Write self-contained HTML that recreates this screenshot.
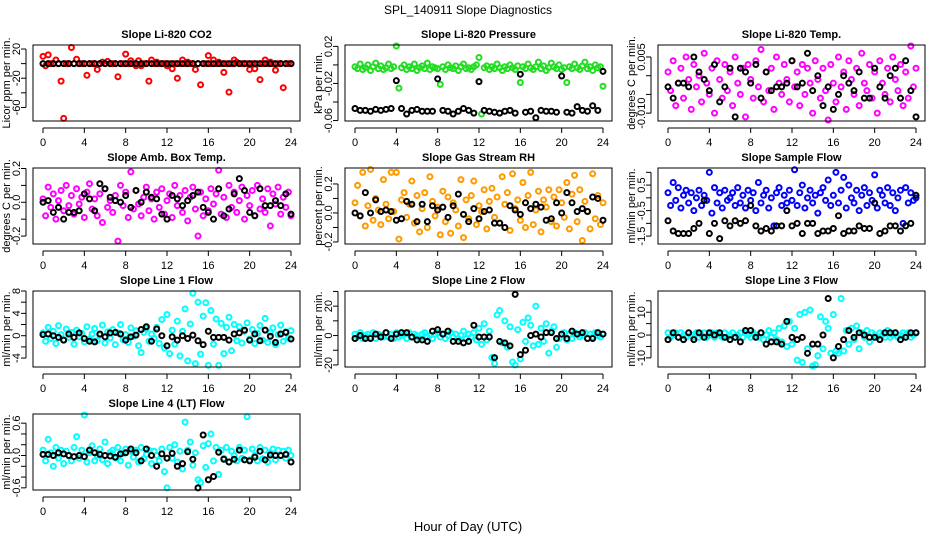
<!DOCTYPE html>
<html><head><meta charset="utf-8"><title>SPL_140911 Slope Diagnostics</title>
<style>
html,body{margin:0;padding:0;background:#fff;}
svg{display:block;font-family:"Liberation Sans","DejaVu Sans",sans-serif;}
</style></head>
<body>
<svg id="chart" width="936" height="540" viewBox="0 0 936 540">
<rect x="0" y="0" width="936" height="540" fill="#fff"/>
<text x="468" y="14" text-anchor="middle" font-size="12">SPL_140911  Slope Diagnostics</text>
<text x="468" y="531" text-anchor="middle" font-size="13">Hour of Day (UTC)</text>
</svg>
<script>
const hoursC = [0,0.25,0.5,0.75,1,1.25,1.5,1.75,2,2.25,2.5,2.75,3,3.25,3.5,3.75,4,4.25,4.5,4.75,5,5.25,5.5,5.75,6,6.25,6.5,6.75,7,7.25,7.5,7.75,8,8.25,8.5,8.75,9,9.25,9.5,9.75,10,10.25,10.5,10.75,11,11.25,11.5,11.75,12,12.25,12.5,12.75,13,13.25,13.5,13.75,14,14.25,14.5,14.75,15,15.25,15.5,15.75,16,16.25,16.5,16.75,17,17.25,17.5,17.75,18,18.25,18.5,18.75,19,19.25,19.5,19.75,20,20.25,20.5,20.75,21,21.25,21.5,21.75,22,22.25,22.5,22.75,23,23.25,23.5,23.75,24];
const hoursB = [0,0.5,1,1.5,2,2.5,3,3.5,4,4.5,5,5.5,6,6.5,7,7.5,8,8.5,9,9.5,10,10.5,11,11.5,12,12.5,13,13.5,14,14.5,15,15.5,16,16.5,17,17.5,18,18.5,19,19.5,20,20.5,21,21.5,22,22.5,23,23.5,24];
const xTicks = [0,4,8,12,16,20,24];

const co2C = [10,-3,12,0,0,5,0,-24,-75,0,0,22,0,6,0,0,0,-16,0,0,0,-8,0,2,0,3,0,0,0,-18,0,0,13,0,4,0,-3,4,-3,0,0,-24,5,0,2,0,0,0,-3,0,-7,0,-20,0,5,0,2,0,0,-8,0,-29,0,0,11,0,5,0,2,0,-12,0,-39,0,5,2,0,0,0,0,-8,0,-7,0,-22,0,5,0,2,0,-9,0,0,-33,0,0,0];
const co2B = [0,0,0,0,0,0,0,0,0,0,0,0,0,0,0,0,0,0,0,0,0,0,0,0,0,0,0,0,0,0,0,0,0,0,0,0,0,0,0,0,0,0,0,0,0,0,0,0,0];

const presC = [-0.002,-0.004,0.001,-0.005,-0.003,0.000,-0.006,-0.002,0.002,-0.004,-0.001,-0.005,-0.003,0.001,-0.004,-0.002,0.021,-0.025,-0.003,0.000,-0.005,-0.002,-0.004,0.001,-0.006,-0.003,-0.001,-0.004,0.002,-0.005,-0.002,-0.003,-0.004,-0.021,-0.002,-0.005,0.000,-0.003,-0.004,-0.001,-0.006,-0.002,0.001,-0.004,-0.003,-0.005,-0.002,0.000,0.008,-0.053,-0.003,-0.001,-0.005,-0.002,-0.004,0.001,-0.003,-0.006,-0.002,-0.004,0.000,-0.003,-0.005,-0.001,-0.019,-0.002,-0.004,0.001,-0.003,-0.005,-0.002,0.003,-0.004,-0.001,-0.006,-0.003,0.002,-0.002,-0.004,0.000,-0.005,-0.003,-0.019,-0.002,-0.004,0.001,-0.003,-0.005,-0.001,0.003,-0.004,-0.002,-0.006,0.000,-0.003,-0.002,-0.023];
const presB = [-0.047,-0.049,-0.049,-0.050,-0.048,-0.049,-0.048,-0.047,-0.017,-0.047,-0.053,-0.049,-0.048,-0.050,-0.050,-0.050,-0.015,-0.049,-0.050,-0.053,-0.050,-0.047,-0.049,-0.052,-0.018,-0.049,-0.050,-0.051,-0.052,-0.050,-0.049,-0.052,-0.010,-0.051,-0.050,-0.057,-0.049,-0.050,-0.050,-0.051,-0.012,-0.051,-0.052,-0.045,-0.049,-0.050,-0.044,-0.049,-0.007];

const tempC = [0.001,-0.004,0.004,-0.008,-0.002,0.002,-0.006,0.005,-0.001,-0.009,0.003,-0.003,0.000,-0.007,0.006,-0.002,-0.005,0.002,-0.010,0.004,-0.001,-0.006,0.003,-0.004,0.001,-0.008,0.005,-0.002,-0.005,0.002,-0.011,0.003,-0.001,-0.006,0.004,-0.003,0.007,-0.007,0.001,-0.004,0.002,-0.009,0.005,-0.002,-0.005,0.003,-0.001,-0.007,0.004,-0.003,0.001,-0.008,0.003,-0.005,0.002,-0.002,-0.010,0.004,-0.001,-0.006,0.002,-0.004,-0.012,0.003,-0.002,-0.007,0.005,-0.003,0.001,-0.009,0.004,-0.001,-0.005,0.002,-0.008,0.006,-0.002,-0.004,0.003,-0.006,0.001,-0.010,0.004,-0.002,-0.005,0.002,-0.007,0.005,-0.001,-0.004,0.003,-0.008,0.001,-0.006,0.008,-0.003,0.002];
const tempB = [-0.003,-0.006,-0.002,-0.002,-0.003,0.005,0.001,-0.001,-0.004,0.003,-0.007,-0.003,0.002,-0.011,0.002,0.001,-0.002,0.003,-0.006,0.001,-0.004,-0.003,-0.003,-0.002,0.004,-0.003,-0.002,0.006,-0.004,0.000,-0.008,-0.003,-0.009,-0.005,0.000,-0.002,-0.004,0.001,-0.006,-0.006,0.002,-0.003,-0.006,0.000,0.002,-0.006,0.004,-0.004,-0.011];

const ambC = [0.02,-0.08,0.09,-0.03,0.05,-0.10,0.01,0.07,-0.05,0.10,-0.02,0.04,-0.07,0.08,-0.01,0.03,-0.09,0.06,0.11,-0.04,0.02,-0.08,0.05,-0.12,0.08,-0.03,0.01,-0.06,0.04,-0.23,0.10,-0.02,0.06,-0.09,0.18,-0.04,0.07,-0.01,-0.08,0.03,0.09,-0.05,0.02,-0.10,0.06,-0.03,0.08,-0.07,0.01,0.05,-0.09,0.10,-0.02,0.04,-0.06,0.07,-0.11,0.03,0.09,-0.04,-0.20,0.06,-0.08,0.02,-0.05,0.08,-0.01,0.05,0.19,-0.07,0.03,-0.09,0.10,-0.03,0.06,-0.06,0.01,0.09,-0.10,0.04,-0.02,0.07,-0.08,0.10,-0.04,0.02,-0.06,0.08,-0.14,0.05,-0.01,0.09,-0.07,0.03,-0.03,0.06,-0.08];
const ambB = [0.00,0.01,-0.06,-0.03,-0.10,-0.06,-0.06,-0.05,0.05,0.02,-0.05,0.11,0.08,0.03,0.01,0.00,0.04,-0.03,0.07,0.00,0.06,0.03,0.02,-0.07,-0.10,0.04,0.02,-0.02,0.01,0.04,0.06,-0.03,-0.06,-0.10,0.08,-0.08,-0.04,0.05,0.14,0.07,-0.06,-0.08,0.08,-0.02,-0.02,0.01,-0.02,0.05,-0.07];

const rhC = [0.07,0.19,-0.02,0.28,-0.09,0.05,0.30,-0.05,0.10,0.02,-0.08,0.23,0.06,-0.04,0.28,0.01,0.28,-0.18,0.09,0.14,-0.03,0.06,0.22,-0.07,0.12,-0.13,0.03,0.14,-0.10,0.25,0.08,-0.02,0.04,-0.15,0.15,-0.06,0.11,-0.14,0.07,0.02,-0.09,0.23,-0.17,0.09,-0.04,0.12,0.22,-0.08,0.05,0.01,0.16,-0.11,0.08,0.17,-0.03,0.11,-0.07,0.25,0.06,0.14,-0.12,0.27,0.03,0.09,-0.05,0.21,-0.10,0.12,0.28,-0.08,0.02,0.15,-0.13,0.09,0.04,0.16,-0.06,0.11,-0.09,0.16,0.07,-0.03,0.21,-0.11,0.13,0.26,-0.06,0.16,-0.19,0.08,0.01,-0.11,0.27,-0.04,0.12,-0.08,0.07];
const rhB = [0.0,-0.02,0.14,0.00,0.09,0.01,0.02,0.01,-0.05,-0.04,0.08,0.06,-0.06,0.06,-0.06,0.05,0.02,0.04,-0.03,0.05,0.13,-0.01,-0.06,0.03,-0.04,0.01,0.02,-0.07,-0.07,-0.10,0.05,0.02,-0.01,0.07,0.03,0.06,0.04,-0.05,-0.04,0.07,0.00,0.14,0.07,0.01,0.03,0.01,0.11,0.10,-0.05];

const sampleC = [0.2,-0.3,0.6,-0.1,0.4,-0.4,0.1,0.3,-0.2,0.2,-0.5,0.0,0.3,-0.3,0.1,-0.1,1.0,-0.6,0.4,-0.2,0.2,-0.4,0.3,-0.1,0.0,0.2,-0.3,0.4,-0.2,0.1,-0.4,0.3,-0.1,0.2,-0.5,0.6,-0.2,0.1,0.3,-0.4,0.0,-1.1,0.2,0.4,-0.3,0.1,-0.2,0.3,-0.1,1.1,-0.3,0.2,0.5,-0.4,0.0,0.3,-0.2,0.1,-0.6,0.2,0.4,-0.1,0.7,-0.3,0.1,1.0,-0.2,0.3,0.8,-0.4,0.5,0.0,-0.2,0.3,-0.5,0.1,0.4,-0.3,0.2,-0.1,0.9,-0.4,0.3,0.1,-0.2,0.4,-0.3,0.2,-0.5,0.0,0.3,-1.0,0.4,-0.2,0.2,-0.1,0.0];
const sampleB = [-0.9,-1.3,-1.4,-1.4,-1.4,-1.2,-1.0,-0.1,-1.4,-1.0,-1.6,-0.9,-1.1,-0.9,-1.0,-0.9,-0.3,-1.1,-1.3,-1.2,-1.3,-1.1,-1.1,-0.5,-1.1,-1.0,-1.4,-1.0,-1.0,-1.4,-1.3,-1.3,-1.2,-0.7,-1.4,-1.3,-1.3,-1.1,-1.2,-1.2,-0.2,-1.4,-1.3,-1.1,-1.1,-1.3,-1.1,-1.0,0.1];

const line1C = [0.5,-1.0,1.5,-0.5,0.8,-1.4,1.8,0.2,-0.8,1.2,-0.3,0.6,-1.5,1.0,-0.2,0.4,-1.1,1.6,-0.6,0.3,1.3,-0.9,0.1,1.9,-1.3,0.7,-0.4,1.1,-1.6,0.5,2.0,-0.7,0.2,-1.2,1.4,-0.1,0.9,-1.8,-3.0,0.6,1.2,-1.0,0.3,-0.5,1.5,-1.4,2.9,-2.2,3.8,-3.2,1.0,-1.5,2.6,-3.6,0.8,4.8,-4.5,2.1,7.6,-5.0,6.0,-3.3,3.5,5.9,-5.3,4.5,-1.5,3.0,-5.3,2.2,-3.2,1.5,3.3,-2.7,2.0,-0.9,1.6,-1.3,0.8,2.3,-0.6,1.1,-1.4,0.4,1.8,-0.8,3.1,-1.2,0.5,1.4,-1.6,0.2,1.9,-1.0,0.7,-0.4,0.9];
const line1B = [0.2,0.3,0.0,-0.3,-0.8,0.3,-0.3,0.5,-0.5,-1.0,-1.1,0.3,-0.2,0.5,0.6,0.3,-0.8,-0.2,0.1,1.1,1.6,-1.0,1.2,0.0,-1.8,-0.2,-0.8,0.0,-0.5,0.1,-0.9,-1.6,0.8,-0.3,-0.3,-0.3,-0.8,0.3,0.5,1.0,-0.8,0.3,-0.9,1.0,-0.1,-1.2,0.3,0.6,-0.6];

const line2C = [1,-1,2,-2,0,1,-1,2,-2,1,0,-1,2,-1,1,-2,2,-1,0,1,-2,2,-1,1,0,-2,1,2,-1,0,-2,1,2,-1,1,-2,0,2,-1,1,-2,0,3,-2,1,-1,2,-3,5,-6,8,-3,3,-15,-19,14,17,-5,10,-8,6,-18,-20,4,-16,9,-4,12,7,-7,20,-6,5,-4,8,-12,3,6,-8,-2,1,2,-3,1,-2,2,1,-1,0,2,-2,1,-1,2,0,-1,1];
const line2B = [-2,0,-2,-2,1,-1,2,-2,1,2,2,-1,-3,-3,-4,3,4,1,3,-4,-4,-5,-4,7,-1,-1,-1,-15,-4,-5,-7,28,-13,-10,0,1,-1,2,2,-2,1,-2,3,1,2,-2,-2,2,1];

const line3C = [1,-1,0,1,-1,1,0,-1,1,0,-1,1,-1,0,1,-1,0,1,-1,1,0,-1,1,-1,0,1,-1,0,1,-1,1,0,-1,1,0,-1,1,-2,0,2,-1,1,-2,3,-3,4,-5,6,-4,3,-11,9,-12,10,-6,11,-14,-13,-9,8,-6,6,3,-8,9,-7,-8,16,-7,2,-4,3,-2,4,-6,1,-1,2,-3,1,0,-1,1,0,-1,2,-1,0,1,-1,0,1,0,1,-1,0,1];
const line3B = [-2,1,-1,-2,1,-2,1,-1,1,0,1,-1,-2,-1,-3,2,2,-1,1,-4,-3,-3,-4,6,-1,-2,-1,-8,-4,-4,0,16,-10,-5,-2,2,-1,1,0,-1,-1,-2,1,1,1,-2,-1,1,1];

const line4C = [0.1,-0.1,0.3,0.05,-0.2,0.15,-0.05,0.1,-0.15,0.08,0.0,-0.1,0.15,0.35,-0.05,0.1,0.8,-0.12,0.05,0.18,-0.1,0.0,0.12,-0.08,0.25,-0.15,0.06,0.1,-0.05,0.15,-0.1,0.04,0.12,-0.18,0.08,-0.03,0.1,-0.12,0.15,-0.06,0.02,0.1,-0.15,0.08,0.0,-0.1,0.12,-0.3,-0.6,0.15,-0.05,0.2,-0.12,0.08,-0.25,0.62,0.1,0.25,-0.18,0.05,-0.45,-0.5,0.18,-0.22,0.22,0.4,-0.1,0.15,-0.35,0.1,-0.05,0.15,-0.12,0.08,0.0,-0.1,0.15,-0.05,0.1,0.72,-0.08,0.12,0.0,-0.1,0.15,-0.06,0.1,-0.12,0.05,0.12,-0.08,0.1,0.0,0.08,-0.05,0.1,0.0];
const line4B = [0.02,0.02,0.0,0.05,0.03,0.0,-0.02,0.0,-0.02,0.1,0.05,0.02,0.0,-0.01,-0.03,0.03,0.05,0.12,0.05,-0.1,0.12,0.0,-0.2,0.03,-0.05,0.04,-0.2,-0.15,0.07,-0.07,-0.6,0.38,-0.45,-0.39,0.06,-0.07,-0.12,-0.07,0.1,-0.08,-0.1,-0.03,0.08,-0.08,0.01,0.0,0.0,0.02,-0.12];

const panelTitles = ["Slope Li-820 CO2","Slope Li-820 Pressure","Slope Li-820 Temp.","Slope Amb. Box Temp.","Slope Gas Stream RH","Slope Sample Flow","Slope Line 1 Flow","Slope Line 2 Flow","Slope Line 3 Flow","Slope Line 4 (LT) Flow"];
const yTitles = ["Licor ppm per min.","kPa per min.","degrees C per min.","degrees C per min.","percent per min.","ml/min per min.","ml/min per min.","ml/min per min.","ml/min per min.","ml/min per min."];
const yTicks = [[20,0,-20,-40,-60],[0.02,0,-0.02,-0.04,-0.06],[0.005,0,-0.005,-0.01],[0.2,0.1,0,-0.1,-0.2],[0.2,0.1,0,-0.1,-0.2],[1,0.5,0,-0.5,-1,-1.5],[8,6,4,2,0,-2,-4],[30,20,10,0,-10,-20],[15,10,5,0,-5,-10],[0.6,0.4,0.2,0,-0.2,-0.4,-0.6]];
const yTickLabels = [["20","","-20","","-60"],["0.02","","-0.02","","-0.06"],["0.005","","","-0.010"],["0.2","","0.0","","-0.2"],["0.2","","0.0","","-0.2"],["","0.5","","-0.5","","-1.5"],["8","","4","","0","","-4"],["","20","","0","","-20"],["","10","","0","","-10"],["0.6","","","0.0","","","-0.6"]];
const yMin = [-78.6,-0.0605,-0.0121,-0.247,-0.214,-1.81,-5.6,-21.4,-14,-0.64];
const yMax = [25.5,0.0215,0.0082,0.203,0.31,1.17,8.0,30.3,19.3,0.77];
const colorSeries = [co2C,presC,tempC,ambC,rhC,sampleC,line1C,line2C,line3C,line4C];
const blackSeries = [co2B,presB,tempB,ambB,rhB,sampleB,line1B,line2B,line3B,line4B];
const seriesColors = ["#ff0000","#22dd22","#ff00ff","#ff00ff","#ff9900","#0000ff","#00ffff","#00ffff","#00ffff","#00ffff"];

const NS = "http://www.w3.org/2000/svg";
const svg = document.getElementById("chart");
const colLeft = [33,345,658], rowTop = [45,168,291,414], W = 267, H = 76;
function mk(tag, attrs, parent){const e=document.createElementNS(NS,tag);for(const k in attrs)e.setAttribute(k,attrs[k]);parent.appendChild(e);return e;}
function slug(s){return s.toLowerCase().replace(/[^a-z0-9]+/g,'-').replace(/^-|-$/g,'');}

for(let p=0;p<10;p++){
  const L = colLeft[p%3], T = rowTop[Math.floor(p/3)];
  const xs = h => L + 10 + h/24*(W-19);
  const ys = v => T + (yMax[p]-v)/(yMax[p]-yMin[p])*H;
  const g = mk('g',{},svg);
  
  
  const t = mk('text',{x:L+W/2,y:T-7,'text-anchor':'middle','font-size':11,'font-weight':'bold'},g);
  t.textContent = panelTitles[p];
  
  
  const yt = mk('text',{transform:`translate(${L-23},${T+H/2}) rotate(-90)`,'text-anchor':'middle','font-size':11},g);
  yt.textContent = yTitles[p];
  
  
  const xa = mk('g',{stroke:'#000','stroke-width':1},g);
  
  
  mk('line',{x1:xs(0),x2:xs(24),y1:T+H+7,y2:T+H+7},xa);
  xTicks.forEach(v=>{
    mk('line',{x1:xs(v),x2:xs(v),y1:T+H+7,y2:T+H+12},xa);
    const lb = mk('text',{x:xs(v),y:T+H+25,'text-anchor':'middle','font-size':11,stroke:'none'},g);
    lb.textContent = v;
    
    
  });
  const ya = mk('g',{stroke:'#000','stroke-width':1},g);
  
  
  const tks = yTicks[p];
  mk('line',{x1:L-7,x2:L-7,y1:ys(tks[0]),y2:ys(tks[tks.length-1])},ya);
  tks.forEach((v,i)=>{
    mk('line',{x1:L-12,x2:L-7,y1:ys(v),y2:ys(v)},ya);
    if(yTickLabels[p][i]){
      const lb = mk('text',{transform:`translate(${L-13},${ys(v)}) rotate(-90)`,'text-anchor':'middle','font-size':11},g);
      lb.textContent = yTickLabels[p][i];
      
      
    }
  });
  const cg = mk('g',{fill:'none',stroke:seriesColors[p],'stroke-width':2},g);
  
  
  colorSeries[p].forEach((v,i)=>{
    if(hoursC[i]===undefined) return;
    const c = mk('circle',{cx:xs(hoursC[i]),cy:Math.max(T+1,Math.min(T+H-1,ys(v))),r:2.5},cg);
    
    
  });
  const bg = mk('g',{fill:'none',stroke:'#000','stroke-width':2},g);
  
  
  blackSeries[p].forEach((v,i)=>{
    if(hoursB[i]===undefined) return;
    const c = mk('circle',{cx:xs(hoursB[i]),cy:Math.max(T+1,Math.min(T+H-1,ys(v))),r:2.5},bg);
    
    
  });
  const box = mk('rect',{x:L,y:T,width:W,height:H,fill:'none',stroke:'#000','stroke-width':1},g);
  
  
}
</script>
</body></html>
